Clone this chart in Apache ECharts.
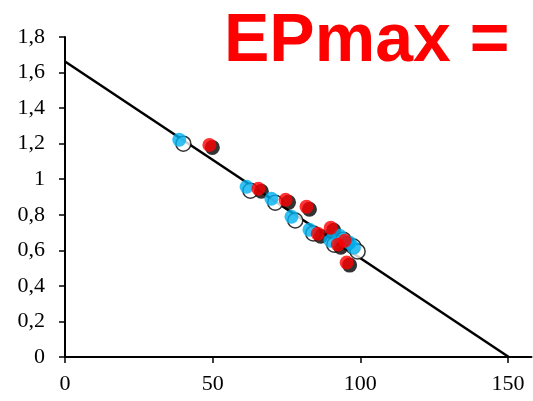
<!DOCTYPE html>
<html>
<head>
<meta charset="utf-8">
<script src="https://cdn.jsdelivr.net/npm/echarts@6/dist/echarts.min.js"></script>
<style>
  html, body { margin: 0; padding: 0; background: #fff; }
  #chart { width: 533px; height: 401px; }
</style>
</head>
<body>
<div id="chart"></div>
<script>
// Measured points (x, y)
const blueX = [38.7, 61.5, 69.9, 76.7, 82.8, 89.9, 93.0, 96.4, 97.8];
const blueY = [1.222, 0.957, 0.890, 0.789, 0.716, 0.654, 0.682, 0.643, 0.615];
const openX = [40.1, 62.8, 71.2, 78.0, 84.1, 91.2, 94.3, 97.7, 99.1];
const openY = [1.200, 0.935, 0.868, 0.768, 0.695, 0.632, 0.660, 0.621, 0.594];
const redX = [48.9, 65.5, 74.7, 81.8, 85.6, 90.0, 94.7, 92.4, 95.4];
const redY = [1.193, 0.946, 0.884, 0.845, 0.693, 0.727, 0.654, 0.632, 0.531];
const blackX = [49.9, 66.5, 75.7, 82.8, 86.6, 91.0, 95.7, 93.4, 96.4];
const blackY = [1.179, 0.932, 0.870, 0.831, 0.679, 0.713, 0.640, 0.618, 0.517];
// Fitted line endpoints
const fitX = [0, 150.3];
const fitY = [1.662, 0];
const xTicks = [0, 50, 100, 150];
const titleText = 'EPmax =';

const zip = (xs, ys) => xs.map((x, i) => [x, ys[i]]);
const fmtComma = v => String(+(+v).toFixed(1)).replace('.', ',');

const chart = echarts.init(document.getElementById('chart'), null, { renderer: 'canvas' });
const axisFont = { fontFamily: 'Liberation Serif', fontSize: 22, color: '#000' };

chart.setOption({
  animation: false,
  backgroundColor: '#fff',
  title: {
    text: titleText,
    left: 219,
    top: 3,
    textStyle: { fontFamily: 'Liberation Sans', fontWeight: 'bold', fontSize: 68, color: '#ff0000' }
  },
  grid: { left: 65, right: 1.5, top: 37, bottom: 44 },
  xAxis: {
    type: 'value', min: 0, max: 158, interval: 50,
    splitLine: { show: false },
    axisLine: { lineStyle: { color: '#000', width: 2 } },
    axisTick: { show: true, length: 6, lineStyle: { color: '#000', width: 1.5 },
      customValues: xTicks },
    axisLabel: Object.assign({ margin: 16, customValues: xTicks, formatter: v => fmtComma(v) }, axisFont)
  },
  yAxis: {
    type: 'value', min: 0, max: 1.8, interval: 0.2,
    splitLine: { show: false },
    axisLine: { show: true, lineStyle: { color: '#000', width: 2 } },
    axisTick: { show: true, length: 6, lineStyle: { color: '#000', width: 1.5 } },
    axisLabel: Object.assign({ margin: 20, formatter: v => fmtComma(v) }, axisFont)
  },
  series: [
    {
      type: 'line', data: zip(fitX, fitY), symbol: 'none', z: 1,
      lineStyle: { color: '#000', width: 2.5 }
    },
    {
      type: 'scatter', data: zip(openX, openY), symbol: 'circle', symbolSize: 15, z: 2,
      itemStyle: { color: '#fff', borderColor: '#000', borderWidth: 1.5 }
    },
    {
      type: 'scatter', data: zip(blackX, blackY), symbol: 'circle', symbolSize: 15, z: 3,
      itemStyle: { color: '#000' }
    },
    {
      type: 'scatter', data: zip(blueX, blueY), symbol: 'circle', symbolSize: 14, z: 4,
      itemStyle: { color: '#00b0f0' }
    },
    {
      type: 'scatter', data: zip(redX, redY), symbol: 'circle', symbolSize: 14, z: 5,
      itemStyle: { color: '#ff0000' }
    }
  ]
});
</script>
</body>
</html>
